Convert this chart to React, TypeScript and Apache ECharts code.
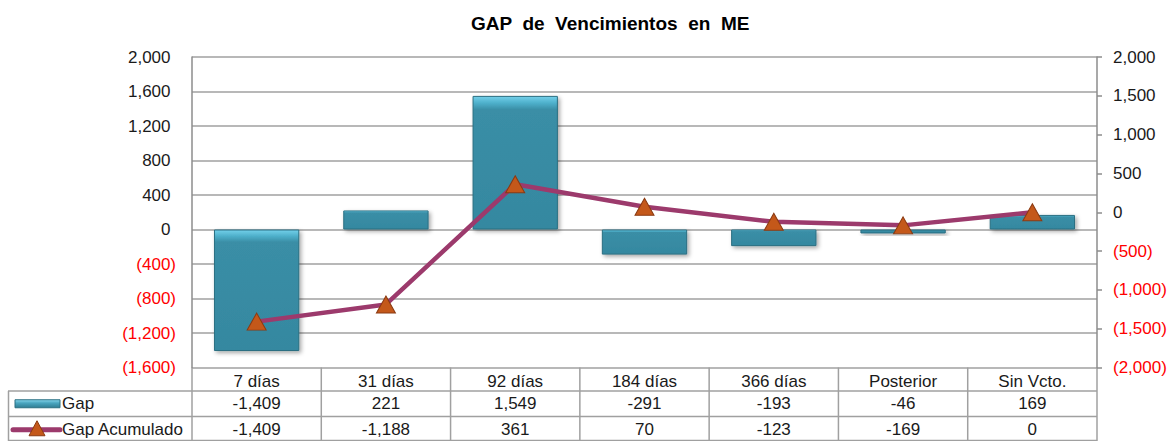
import React, { useEffect, useRef } from "react";
import * as echarts from "echarts";

const categories = ["7 días", "31 días", "92 días", "184 días", "366 días", "Posterior", "Sin Vcto."];
const gapValues = [-1409, 221, 1549, -291, -193, -46, 169];
const gapAcumValues = [-1409, -1188, 361, 70, -123, -169, 0];
const seriesNames = ["Gap", "Gap Acumulado"];
const titleText = "GAP  de  Vencimientos  en  ME";

const W = 1174;
const H = 441;
const GL = 192;
const GR = 1097;
const GT = 57;
const GB = 367.5;
const FONT = 'Arial, "Liberation Sans", sans-serif';
const GRID_COLOR = "#a0a0a0";
const TEXT = "#1a1a1a";
const LINE_COLOR = "#9c3a6c";
const MARK_COLOR = "#c4581a";

const barGradient = () =>
  new echarts.graphic.LinearGradient(0, 0, 0, 1, [
    { offset: 0, color: "#74d0ea" },
    { offset: 0.05, color: "#4eb0cb" },
    { offset: 0.1, color: "#3a8ea6" },
    { offset: 1, color: "#3588a0" },
  ]);

const fmtNum = (v: number) => Math.abs(v).toLocaleString("en-US");
const fmtTable = (v: number) => (v < 0 ? "-" : "") + Math.abs(v).toLocaleString("en-US");

export default function App() {
  const ref = useRef<HTMLDivElement>(null);
  useEffect(() => {
    if (!ref.current) return;
    const chart = echarts.init(ref.current, null, { renderer: "svg" });
    const colW = (GR - GL) / categories.length;
    const row1Top = 391;
    const row2Top = 416.5;
    const tableBottom = 441;
    const lineStyle = { stroke: GRID_COLOR, lineWidth: 1.5 };
    const graphics: any[] = [];
    graphics.push({ type: "line", shape: { x1: 8, y1: row1Top, x2: GR, y2: row1Top }, style: lineStyle });
    graphics.push({ type: "line", shape: { x1: 8, y1: row2Top, x2: GR, y2: row2Top }, style: lineStyle });
    graphics.push({ type: "line", shape: { x1: 8, y1: tableBottom - 0.5, x2: GR, y2: tableBottom - 0.5 }, style: lineStyle });
    graphics.push({ type: "line", shape: { x1: 8.5, y1: row1Top, x2: 8.5, y2: tableBottom }, style: lineStyle });
    for (let i = 0; i <= categories.length; i++) {
      const x = GL + i * colW;
      graphics.push({ type: "line", shape: { x1: x, y1: GB, x2: x, y2: tableBottom }, style: lineStyle });
    }
    const rowVals = [gapValues, gapAcumValues];
    const rowY = [(row1Top + row2Top) / 2, (row2Top + tableBottom) / 2 + 1];
    rowVals.forEach((vals, r) => {
      vals.forEach((v, i) => {
        graphics.push({
          type: "text",
          x: GL + (i + 0.5) * colW,
          y: rowY[r],
          style: { text: fmtTable(v), fill: TEXT, font: `17px ${FONT}`, align: "center", verticalAlign: "middle" },
        });
      });
      graphics.push({
        type: "text",
        x: 62,
        y: rowY[r],
        style: { text: seriesNames[r], fill: TEXT, font: `17px ${FONT}`, align: "left", verticalAlign: "middle" },
      });
    });
    graphics.push({
      type: "rect",
      shape: { x: 15, y: rowY[0] - 4, width: 45, height: 8 },
      style: {
        fill: new echarts.graphic.LinearGradient(0, 0, 0, 1, [
          { offset: 0, color: "#8ad8ee" },
          { offset: 0.4, color: "#4aa6c0" },
          { offset: 1, color: "#2f7d93" },
        ]),
        stroke: "#2b6f82",
        lineWidth: 1,
      },
    });
    graphics.push({
      type: "line",
      shape: { x1: 13, y1: rowY[1], x2: 60, y2: rowY[1] },
      style: { stroke: LINE_COLOR, lineWidth: 5, lineCap: "round" },
    });
    graphics.push({
      type: "polygon",
      shape: { points: [[37, rowY[1] - 9], [45, rowY[1] + 6], [29, rowY[1] + 6]] },
      style: { fill: MARK_COLOR, stroke: "#8a3a12", lineWidth: 1 },
    });

    chart.setOption({
      animation: false,
      backgroundColor: "#ffffff",
      title: {
        text: titleText,
        left: 466,
        top: 9,
        textStyle: { fontFamily: FONT, fontSize: 19, fontWeight: "bold", color: "#000" },
      },
      grid: { left: GL, right: W - GR, top: GT, bottom: H - GB },
      xAxis: {
        type: "category",
        data: categories,
        axisLine: { show: false, onZero: false },
        axisTick: { show: false },
        axisLabel: { color: TEXT, fontFamily: FONT, fontSize: 17, margin: 5, interval: 0 },
        splitLine: { show: false },
      },
      yAxis: [
        {
          type: "value",
          min: -1600,
          max: 2000,
          interval: 400,
          position: "left",
          axisLine: { show: true, lineStyle: { color: "#8c8c8c", width: 1.5 } },
          axisTick: { show: false },
          splitLine: { show: true, lineStyle: { color: GRID_COLOR, width: 1.5 } },
          axisLabel: {
            margin: 16,
            fontFamily: FONT,
            fontSize: 17,
            formatter: (v: number) => (v < 0 ? `{neg|(${fmtNum(v)})}` : `{pos|${fmtNum(v)}}`),
            rich: {
              neg: { color: "#ff0000", fontFamily: FONT, fontSize: 17 },
              pos: { color: TEXT, fontFamily: FONT, fontSize: 17, padding: [0, 5.5, 0, 0] },
            },
          },
        },
        {
          type: "value",
          min: -2000,
          max: 2000,
          interval: 500,
          position: "right",
          axisLine: { show: true, lineStyle: { color: "#8c8c8c", width: 1.5 } },
          axisTick: { show: true, length: 5, lineStyle: { color: "#8c8c8c", width: 1.5 } },
          splitLine: { show: false },
          axisLabel: {
            margin: 16,
            fontFamily: FONT,
            fontSize: 17,
            formatter: (v: number) => (v < 0 ? `{neg|(${fmtNum(v)})}` : `{pos|${fmtNum(v)}}`),
            rich: {
              neg: { color: "#ff0000", fontFamily: FONT, fontSize: 17 },
              pos: { color: TEXT, fontFamily: FONT, fontSize: 17 },
            },
          },
        },
      ],
      series: [
        {
          name: seriesNames[0],
          type: "bar",
          data: gapValues,
          yAxisIndex: 0,
          barWidth: "66%",
          itemStyle: {
            color: barGradient(),
            borderColor: "#2b6f82",
            borderWidth: 1,
            shadowColor: "rgba(0,0,0,0.35)",
            shadowBlur: 4,
            shadowOffsetX: 2,
            shadowOffsetY: 2,
          },
        },
        {
          name: seriesNames[1],
          type: "line",
          data: gapAcumValues,
          yAxisIndex: 1,
          symbol: "triangle",
          symbolSize: [19, 17],
          lineStyle: { color: LINE_COLOR, width: 4.5 },
          itemStyle: { color: MARK_COLOR, borderColor: "#8a3a12", borderWidth: 1 },
          z: 5,
        },
      ],
      graphic: graphics,
    });
    return () => chart.dispose();
  }, []);
  return <div ref={ref} style={{ position: "fixed", left: 0, top: 0, width: W, height: H }} />;
}
